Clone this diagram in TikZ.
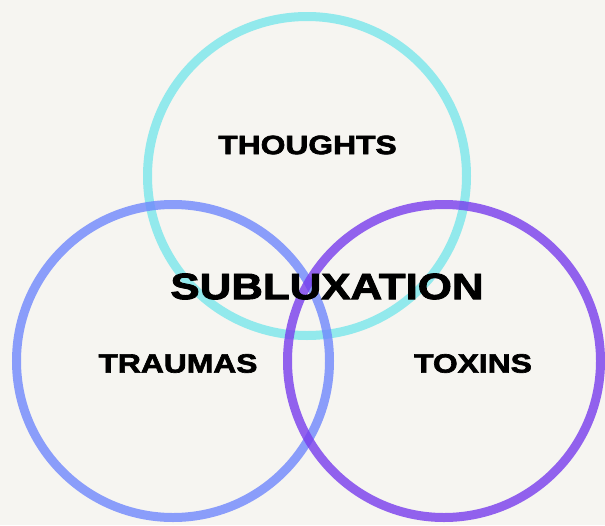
\documentclass[tikz,border=0pt]{standalone}
\usepackage{fontspec}
\usepackage{xcolor}
\usepackage{tikz}
\usetikzlibrary{positioning}
\newfontfamily\heavyfont[FakeStretch=1.2,FakeBold=2.5]{Liberation Sans Bold}
\definecolor{bgcream}{RGB}{246,245,241}
\definecolor{ringcyan}{RGB}{122,230,235}
\definecolor{ringblue}{RGB}{111,136,253}
\definecolor{ringpurple}{RGB}{120,61,237}
\begin{document}
\begin{tikzpicture}[
        x=1pt, y=-1pt,
        ring/.style={circle, line width=9pt, draw opacity=0.8, inner sep=0pt},
        label/.style={inner sep=0pt, font=\heavyfont\fontsize{26.5}{30}\selectfont},
        biglabel/.style={inner sep=0pt, font=\heavyfont\fontsize{36.5}{40}\selectfont}
    ]
        % 背景
        \fill[bgcream] (0,0) rectangle (605,525);
        \useasboundingbox (0,0) rectangle (605,525);
        \clip (0,0) rectangle (605,525);

        % 三个圆环
        \node[ring, draw=ringcyan, minimum size=319pt] (ringthoughts) at (307,176) {};
        \node[ring, draw=ringblue, minimum size=313pt] (ringtraumas) at (173,361) {};
        \node[ring, draw=ringpurple, minimum size=313pt] (ringtoxins) at (444,361) {};

        % 标签
        \node[label] (thoughts) at (307.5,145) {THOUGHTS};
        \node[label] (traumas) at (178,363.5) {TRAUMAS};
        \node[label] (toxins) at (473,363.5) {TOXINS};
        \node[biglabel] (sublux) at (327,286.5) {SUBLUXATION};
    \end{tikzpicture}
\end{document}
